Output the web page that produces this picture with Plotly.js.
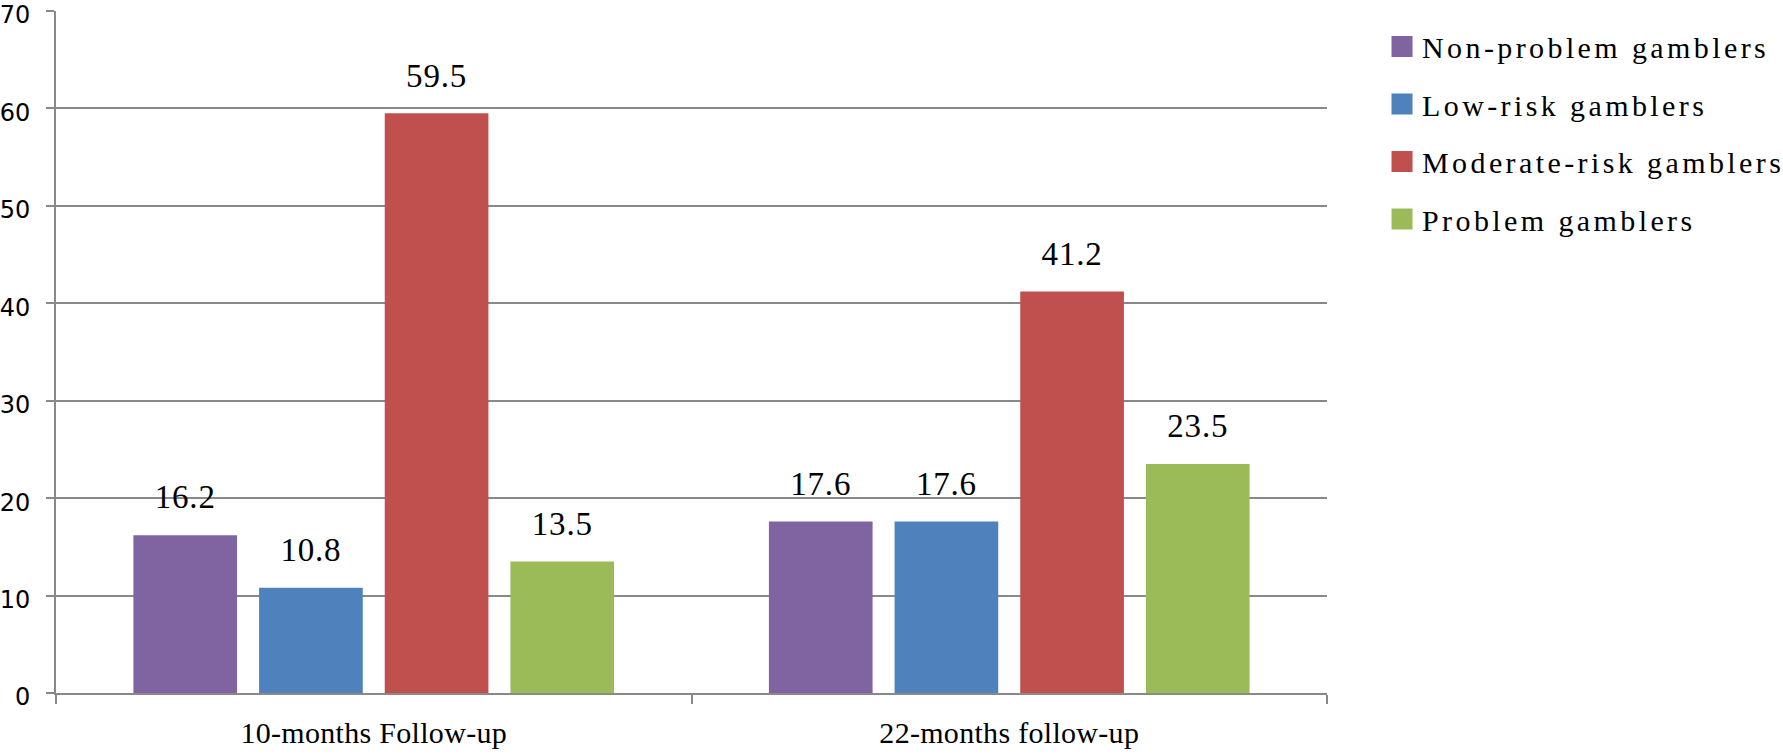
<!DOCTYPE html>
<html>
<head>
<meta charset="utf-8">
<script src="https://cdn.plot.ly/plotly-3.0.1.min.js"></script>
<style>
  html, body { margin: 0; padding: 0; background: #fff; }
  #chart { width: 1783px; height: 755px; }
  text.legendtext { letter-spacing: 3.4px; }
  .legend .legendpoints path { transform: translate(20px, 0px) scale(1.75); }
  .xtick text { letter-spacing: 0.3px; }
  .textpoint text { letter-spacing: 0.8px; }
</style>
</head>
<body>
<div id="chart"></div>
<script>
// ---- data ----
var categories = ["10-months Follow-up", "22-months follow-up"];
var seriesNames = ["Non-problem gamblers", "Low-risk gamblers", "Moderate-risk gamblers", "Problem gamblers"];
var nonProblem = [16.2, 17.6];
var lowRisk = [10.8, 17.6];
var moderateRisk = [59.5, 41.2];
var problem = [13.5, 23.5];
var yTicks = [0, 10, 20, 30, 40, 50, 60, 70];

// ---- styles ----
var colors = ["#8064A2", "#4F81BD", "#C0504D", "#9BBB59"];
var seriesValues = [nonProblem, lowRisk, moderateRisk, problem];
var serif = "Liberation Serif";
var gridGrey = "#898989";

var traces = [];
seriesValues.forEach(function (vals, i) {
  traces.push({
    type: "bar",
    name: seriesNames[i],
    x: categories,
    y: vals,
    legendgroup: "g" + i,
    marker: { color: colors[i] },
    hoverinfo: "x+y+name"
  });
});
seriesValues.forEach(function (vals, i) {
  traces.push({
    type: "scatter",
    mode: "markers+text",
    x: categories,
    y: vals,
    text: vals.map(function (v) { return v.toFixed(1); }),
    textposition: "top center",
    textfont: { family: serif, size: 33, color: "#000" },
    marker: { size: 28, opacity: 0, color: colors[i] },
    showlegend: false,
    legendgroup: "g" + i,
    hoverinfo: "skip",
    cliponaxis: false
  });
});

var layout = {
  width: 1783,
  height: 755,
  margin: { l: 56, r: 456, t: 11, b: 62, autoexpand: false },
  paper_bgcolor: "#fff",
  plot_bgcolor: "#fff",
  font: { family: serif },
  barmode: "group",
  bargap: 0.209,
  bargroupgap: 0.175,
  scattermode: "group",
  scattergap: 0.209,
  showlegend: true,
  legend: {
    x: 1.0433, xanchor: "left",
    y: 0.986, yanchor: "top",
    font: { family: serif, size: 30, color: "#000" },
    traceorder: "grouped",
    tracegroupgap: 15.5,
    bgcolor: "rgba(0,0,0,0)",
    borderwidth: 0
  },
  xaxis: {
    type: "category",
    showline: true,
    linecolor: gridGrey,
    linewidth: 2,
    ticks: "outside",
    tickson: "boundaries",
    ticklen: 9,
    tickwidth: 2,
    tickcolor: gridGrey,
    showgrid: false,
    zeroline: false,
    tickfont: { family: serif, size: 30, color: "#000" },
    ticklabelstandoff: 12
  },
  yaxis: {
    range: [0, 70],
    tickvals: yTicks,
    ticktext: yTicks.map(String),
    showline: true,
    linecolor: gridGrey,
    linewidth: 2,
    ticks: "outside",
    ticklen: 8,
    tickwidth: 2,
    tickcolor: gridGrey,
    showgrid: true,
    gridcolor: gridGrey,
    gridwidth: 2,
    zeroline: false,
    ticklabeloverflow: "allow",
    ticklabelshift: 4,
    tickfont: { family: "DejaVu Sans", size: 24, color: "#000" },
    ticklabelstandoff: 11
  }
};

Plotly.newPlot("chart", traces, layout, { displayModeBar: false, staticPlot: true });
</script>
</body>
</html>
